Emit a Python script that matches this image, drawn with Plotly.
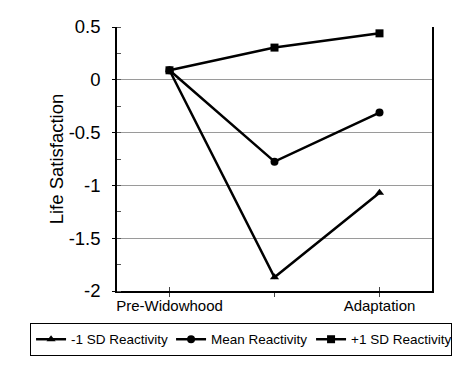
import plotly.graph_objects as go

categories = ["Pre-Widowhood", "", "Adaptation"]
minus_sd = [0.09, -1.87, -1.07]
mean_r = [0.09, -0.775, -0.31]
plus_sd = [0.09, 0.305, 0.44]
series_names = ["-1 SD Reactivity", "Mean Reactivity", "+1 SD Reactivity"]
yticks = [0.5, 0, -0.5, -1, -1.5, -2]
yticklabels = ["0.5", "0", "-0.5", "-1", "-1.5", "-2"]

x = [0, 1, 2]
fig = go.Figure()
symbols = ["triangle-up", "circle", "square"]
for vals, name, sym in zip([minus_sd, mean_r, plus_sd], series_names, symbols):
    fig.add_trace(go.Scatter(
        x=x, y=vals, name=name, mode="lines+markers",
        line=dict(color="black", width=2.5),
        marker=dict(symbol=sym, size=8, color="black"),
    ))

fig.update_layout(
    width=466, height=375,
    margin=dict(l=117, r=34, t=27, b=84, autoexpand=False),
    paper_bgcolor="white", plot_bgcolor="white",
    font=dict(family="Liberation Sans, Arial, sans-serif", color="black"),
    showlegend=True,
    legend=dict(
        orientation="h", xref="paper", yref="paper",
        x=-0.276, xanchor="left", y=-0.121, yanchor="top",
        bordercolor="black", borderwidth=1,
        font=dict(size=13.5), itemwidth=30, tracegroupgap=0,
        entrywidthmode="pixels", entrywidth=95,
    ),
)
fig.update_xaxes(
    range=[-0.5, 2.5], tickmode="array", tickvals=x, ticktext=categories,
    showgrid=False, zeroline=False, showline=True, linecolor="black", linewidth=1.5,
    ticks="inside", ticklen=4, tickcolor="#444", tickfont=dict(size=15),
    minor=dict(tickvals=x, ticks="outside", ticklen=4, tickcolor="#444", showgrid=False),
)
fig.update_yaxes(
    range=[-2, 0.5], tickmode="array", tickvals=yticks, ticktext=yticklabels,
    showgrid=True, gridcolor="#9a9a9a", gridwidth=1, zeroline=False,
    showline=True, linecolor="black", linewidth=1.5, mirror=True,
    ticks="outside", ticklen=3, tickcolor="black", tickfont=dict(size=18.5),
    ticklabelstandoff=8,
    minor=dict(dtick=0.25, tick0=0, ticks="inside", ticklen=4, tickcolor="#555", showgrid=False),
    title=dict(text="Life Satisfaction", font=dict(size=18.5), standoff=0),
)
fig.write_html("out.html", config={"displayModeBar": False},
               post_script="document.body.style.margin='0';")
